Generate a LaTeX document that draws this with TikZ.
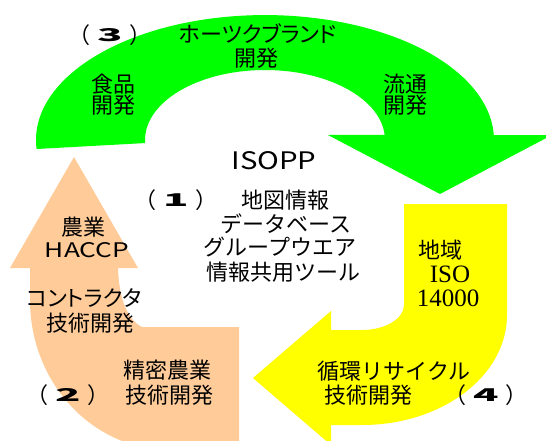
\documentclass[tikz,border=0pt]{standalone}
\usepackage{graphicx}
\usepackage{fontspec}
\newfontfamily\jp{Noto Sans CJK JP}
\newfontfamily\jpp[RawFeature=+palt]{Noto Sans CJK JP}
\newfontfamily\lserif{Liberation Serif}
\definecolor{gr}{RGB}{0,255,0}
\definecolor{ye}{RGB}{255,255,0}
\definecolor{pe}{RGB}{255,204,153}
\newcommand\pnum[1]{（\hspace{7pt}\raisebox{1.5pt}{\scalebox{1.9}[0.8]{\bfseries #1}}\hspace{7pt}）}
\tikzset{
  jt/.style={inner sep=0pt, anchor=center, text height=16.7pt, text depth=0pt, font=\jp\fontsize{22}{24}\selectfont},
  jtp/.style={jt, font=\jpp\fontsize{22}{24}\selectfont},
  lt/.style={inner sep=0pt, anchor=center, font=\jp\fontsize{22}{24}\selectfont},
  st/.style={inner sep=0pt, anchor=center, text height=16.5pt, text depth=0pt, font=\lserif\fontsize{25}{27}\selectfont}
}
\begin{document}
\begin{tikzpicture}[x=1pt,y=-1pt]
\useasboundingbox (0,0) rectangle (546,441);
\clip (0,0) rectangle (546,441);
% green arrow (3)
\fill[gr] (36.6,149) arc[start angle=175.9, end angle=357.7, x radius=229, y radius=125]
  -- (552,135) -- (440,194) -- (328,135) -- (384.7,135)
  arc[start angle=355.9, end angle=177.5, x radius=120, y radius=70] -- cycle;
% peach arrow (2)
\fill[pe] (74,157) -- (138,268) -- (118,268) .. controls (119,300) and (128,320) .. (142,327)
  -- (239,327) -- (239,450) -- (170,450)
  arc[start angle=90, end angle=180, x radius=140, y radius=150]
  -- (30,268) -- (10,268) -- cycle;
% yellow arrow (4)
\fill[ye] (404,204) -- (507,204) -- (507,315)
  arc[start angle=0, end angle=90, x radius=145, y radius=110]
  -- (331,425) -- (331,445) -- (253,378) -- (331,311) -- (331,330) -- (362,330)
  arc[start angle=90, end angle=0, x radius=42, y radius=25] -- cycle;
% green texts
\node[jt] (p3) at (110,35) {\pnum{3}};
\node[jtp] (brand) at (258,34) {ホーツクブランド};
\node[jt] (brand2) at (256,58) {開発};
\node[jt] (food1) at (113,84) {食品};
\node[jt] (food2) at (113,105) {開発};
\node[jt] (dist1) at (405,84) {流通};
\node[jt] (dist2) at (405,105) {開発};
% center texts
\node[lt] (isopp) at (274,161) {\resizebox{85pt}{18pt}{ISOPP}};
\node[jt] (p1) at (176,200) {\pnum{1}};
\node[jt] (c1) at (285,200) {地図情報};
\node[jt] (c2) at (286,224) {データベース};
\node[jt] (c3) at (280,247) {グループウエア};
\node[jt] (c4) at (283,272) {情報共用ツール};
% peach texts
\node[jt] (a1) at (83,227) {農業};
\node[lt] (a2) at (87,250) {\resizebox{84pt}{15pt}{HACCP}};
\node[jtp] (a3) at (84,298) {コントラクタ};
\node[jt] (a4) at (90,323) {技術開発};
\node[jt] (a5) at (167,370) {精密農業};
\node[jt] (a6) at (169,395) {技術開発};
\node[jt] (p2) at (68,395) {\pnum{2}};
% yellow texts
\node[jt] (y1) at (440,250) {地域};
\node[st] (y2) at (450,274) {ISO};
\node[st] (y3) at (448,298) {14000};
\node[jt] (y4) at (394,371) {循環リサイクル};
\node[jt] (y5) at (368,395) {技術開発};
\node[jt] (p4) at (486,395) {\pnum{4}};
\end{tikzpicture}
\end{document}
